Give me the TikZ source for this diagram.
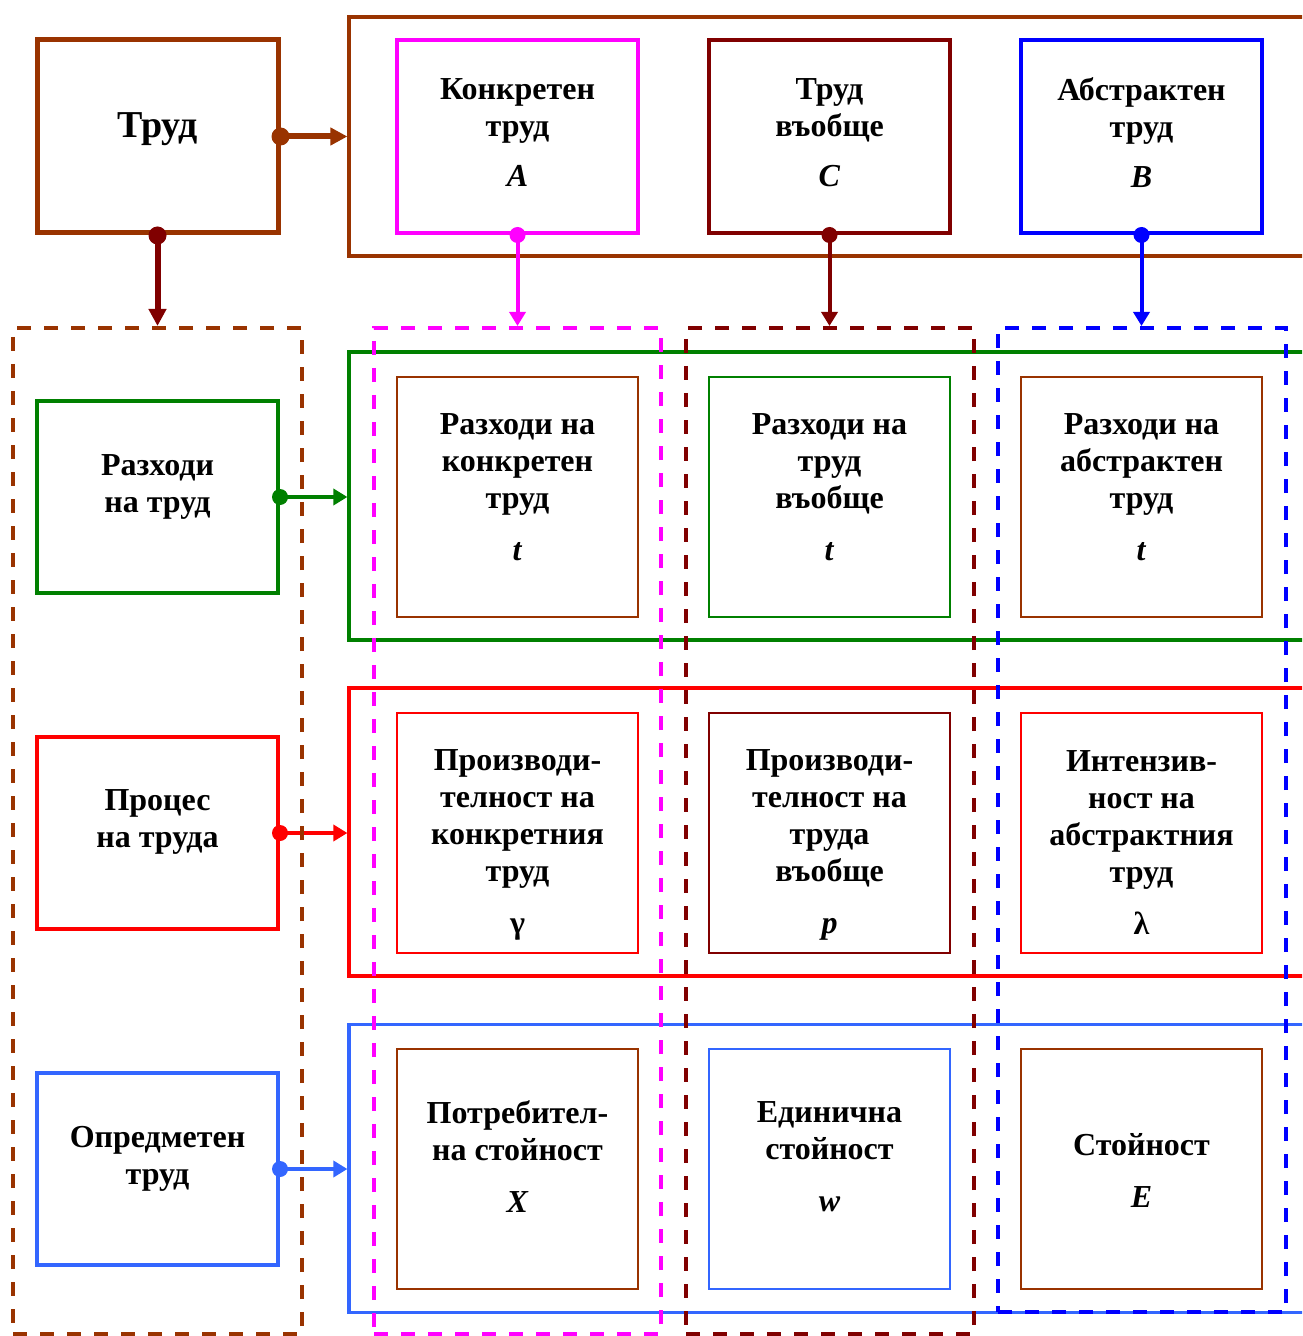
\documentclass[tikz,border=0pt]{standalone}
\usepackage{fontspec}
\setmainfont{Liberation Serif}
\usetikzlibrary{arrows.meta}
\definecolor{rust}{HTML}{993300}
\definecolor{wine}{HTML}{800000}
\definecolor{pink}{HTML}{FF00FF}
\definecolor{royal}{HTML}{0000FF}
\definecolor{leaf}{HTML}{008000}
\definecolor{scarlet}{HTML}{FF0000}
\definecolor{sky}{HTML}{3366FF}
\begin{document}
\begin{tikzpicture}[x=0.5pt,y=-0.5pt,
  txt/.style={font=\bfseries\fontsize{16pt}{18.5pt}\selectfont, align=center, inner sep=0pt},
  frame/.style={draw, line width=2pt, minimum width=120.5pt, minimum height=96.5pt, inner sep=0pt},
  cellbox/.style={draw, line width=1.25pt, minimum width=120.5pt, minimum height=120pt, inner sep=0pt},
  band/.style={draw, line width=1.6pt, minimum width=485.5pt, minimum height=144pt, inner sep=0pt},
  lane/.style={draw, dash pattern=on 7pt off 6.5pt, line width=2pt, minimum width=144pt, minimum height=503pt, inner sep=0pt},
  link/.style={line width=2pt, -{Triangle[length=7pt,width=8pt]}},
  boldlink/.style={line width=3pt, -{Triangle[length=8.5pt,width=8.5pt]}},
]
\useasboundingbox (0,0) rectangle (1302,1336);
\clip (0,0) rectangle (1302,1336);

% --- kinds of labour ---------------------------------------------------
\node[band, draw=rust, minimum height=119.5pt] (kinds) at (834.5,136.5) {};
\node[frame, draw=rust, line width=2.5pt] (trud) at (157.5,136.5) {};
\node[txt, font=\bfseries\fontsize{19pt}{22pt}\selectfont] (trud-t) at (157.5,129.5) {Труд};

\node[frame, draw=pink] (conc) at (517.5,136.5) {};
\node[txt] (conc-t) at (517.5,132.5) {Конкретен\\труд\\[6.5pt]\textit{A}};
\node[frame, draw=wine] (gen) at (829.5,136.5) {};
\node[txt] (gen-t) at (829.5,132.5) {Труд\\въобще\\[6.5pt]\textit{C}};
\node[frame, draw=royal] (abst) at (1141.5,136.5) {};
\node[txt] (abst-t) at (1141.5,132.5) {Абстрактен\\труд\\[6.5pt]\textit{B}};

% --- rows ----------------------------------------------------------------
\node[band, draw=leaf] (costs) at (834.5,496) {};
\node[band, draw=scarlet] (process) at (834.5,832) {};
\node[band, draw=sky] (embodied) at (834.5,1168.5) {};

% --- row headings --------------------------------------------------------
\node[frame, draw=leaf, minimum height=96pt] (spend) at (157.5,497) {};
\node[txt] (spend-t) at (157.5,487) {Разходи\\на труд};
\node[frame, draw=scarlet, minimum height=96pt] (proc) at (157.5,833) {};
\node[txt] (proc-t) at (157.5,822) {Процес\\на труда};
\node[frame, draw=sky, minimum height=96pt] (obj) at (157.5,1169) {};
\node[txt] (obj-t) at (157.5,1159) {Опредметен\\труд};

% --- cells ---------------------------------------------------------------
\node[cellbox, draw=rust] (c11) at (517.5,497) {};
\node[txt] (c11-t) at (517.5,487) {Разходи на\\конкретен\\труд\\[7.5pt]\textit{t}};
\node[cellbox, draw=leaf] (c12) at (829.5,497) {};
\node[txt] (c12-t) at (829.5,487) {Разходи на\\труд\\въобще\\[7.5pt]\textit{t}};
\node[cellbox, draw=rust] (c13) at (1141.5,497) {};
\node[txt] (c13-t) at (1141.5,487) {Разходи на\\абстрактен\\труд\\[7.5pt]\textit{t}};

\node[cellbox, draw=scarlet] (c21) at (517.5,833) {};
\node[txt] (c21-t) at (517.5,845) {Производи-\\телност на\\конкретния\\труд\\[7.5pt]γ};
\node[cellbox, draw=wine] (c22) at (829.5,833) {};
\node[txt] (c22-t) at (829.5,845) {Производи-\\телност на\\труда\\въобще\\[7.5pt]\textit{p}};
\node[cellbox, draw=scarlet] (c23) at (1141.5,833) {};
\node[txt] (c23-t) at (1141.5,843) {Интензив-\\ност на\\абстрактния\\труд\\[7.5pt]λ};

\node[cellbox, draw=rust] (c31) at (517.5,1169) {};
\node[txt] (c31-t) at (517.5,1157) {Потребител-\\на стойност\\[7.5pt]\textit{X}};
\node[cellbox, draw=sky] (c32) at (829.5,1169) {};
\node[txt] (c32-t) at (829.5,1157) {Единична\\стойност\\[7.5pt]\textit{w}};
\node[cellbox, draw=rust] (c33) at (1141.5,1169) {};
\node[txt] (c33-t) at (1141.5,1170.5) {Стойност\\[7.5pt]\textit{E}};

% --- horizontal connectors ----------------------------------------------
\draw[boldlink, rust] (trud.east) -- (trud.east -| kinds.west);
\fill[rust] (trud.east) circle (4.5pt);
\draw[link, leaf] (spend.east) -- (spend.east -| costs.west);
\fill[leaf] (spend.east) circle (4pt);
\draw[link, scarlet] (proc.east) -- (proc.east -| process.west);
\fill[scarlet] (proc.east) circle (4pt);
\draw[link, sky] (obj.east) -- (obj.east -| embodied.west);
\fill[sky] (obj.east) circle (4pt);

% --- dashed columns ------------------------------------------------------
\node[lane, draw=rust, minimum width=144.5pt] (laneL) at (157.5,831) {};
\node[lane, draw=pink, minimum width=143.5pt] (laneA) at (517.5,831) {};
\node[lane, draw=wine] (laneC) at (830,831) {};
\node[lane, draw=royal, minimum height=492pt] (laneB) at (1142,820) {};

% --- vertical connectors -------------------------------------------------
\draw[boldlink, wine] (trud.south) -- (trud.south |- laneL.north);
\fill[wine] (trud.south) circle (4.5pt);
\draw[link, pink] (conc.south) -- (conc.south |- laneA.north);
\fill[pink] (conc.south) circle (4pt);
\draw[link, wine] (gen.south) -- (gen.south |- laneC.north);
\fill[wine] (gen.south) circle (4pt);
\draw[link, royal] (abst.south) -- (abst.south |- laneB.north);
\fill[royal] (abst.south) circle (4pt);
\end{tikzpicture}
\end{document}
